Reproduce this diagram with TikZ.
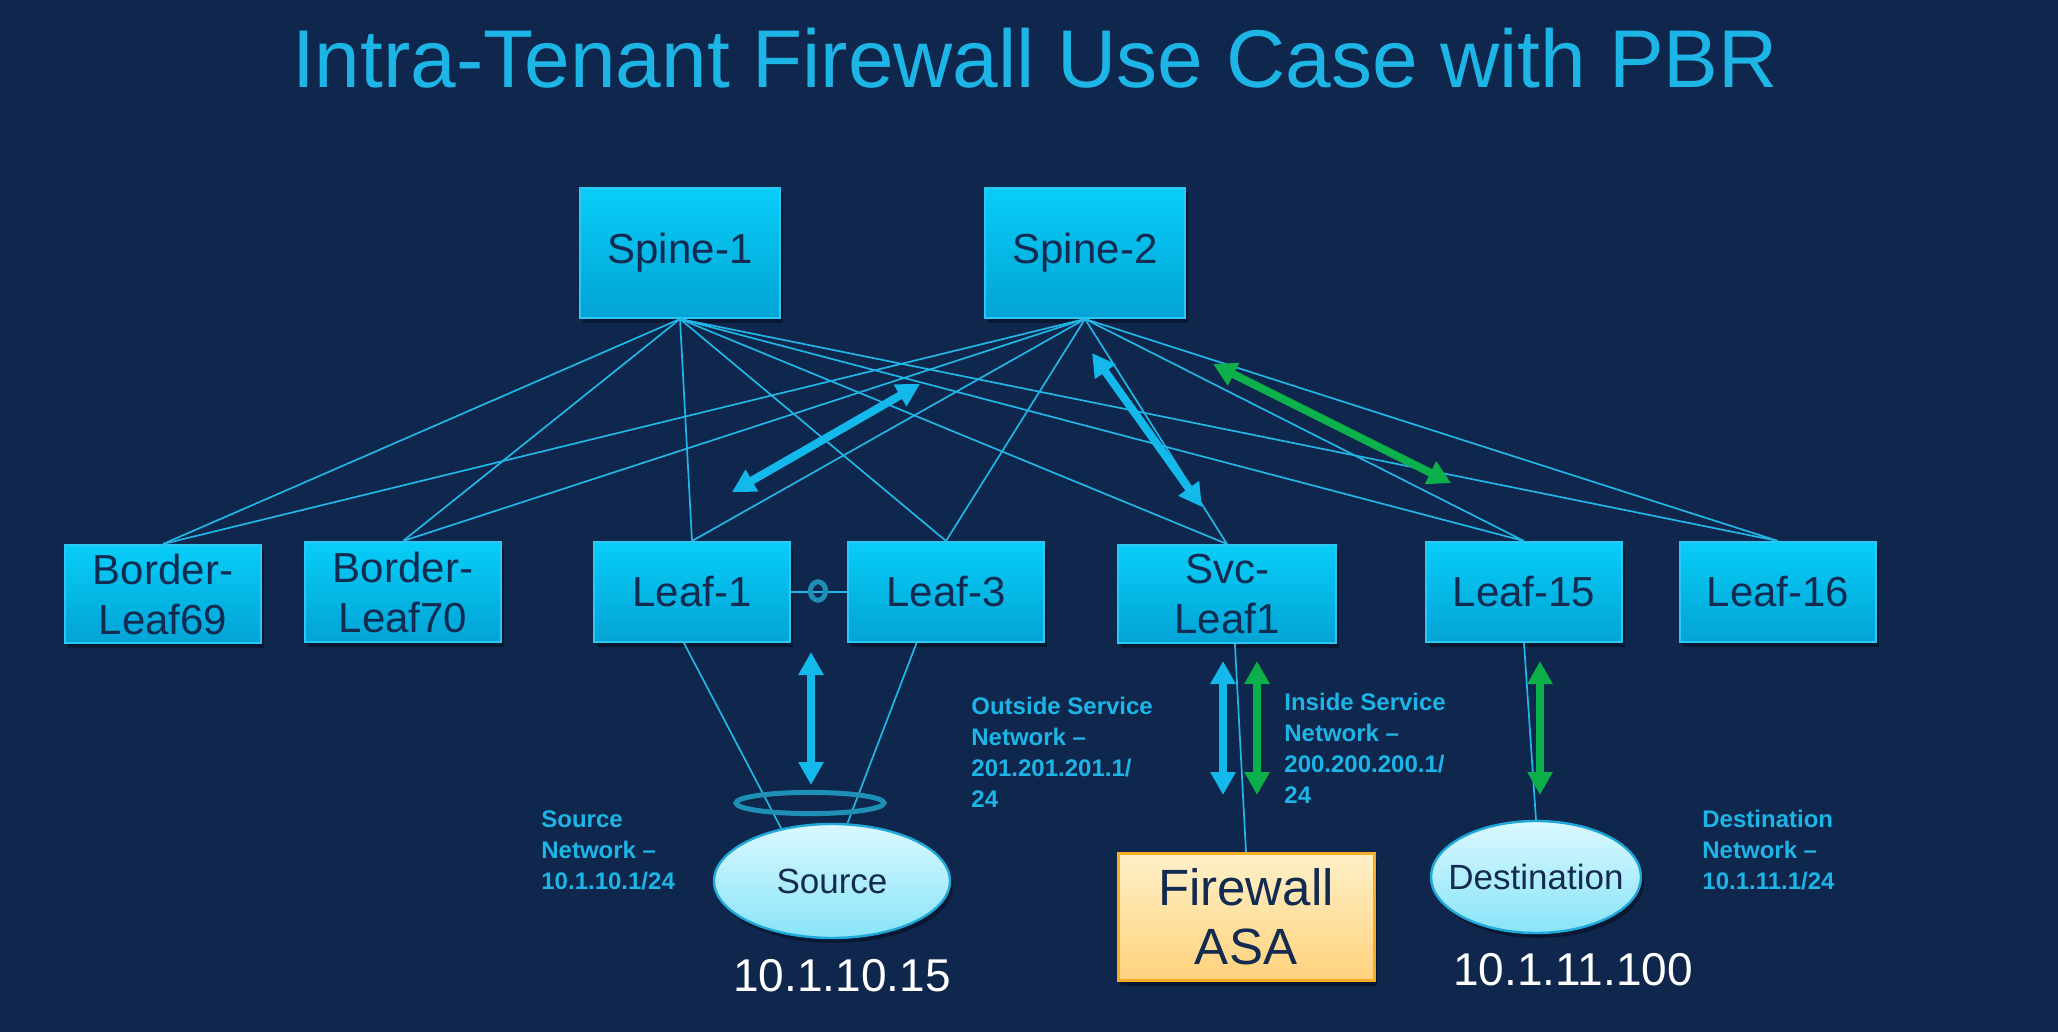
\documentclass[tikz,border=0pt]{standalone}
\usepackage{fontspec}
\setmainfont{Liberation Sans}
\usetikzlibrary{shapes.geometric,arrows.meta,shadows}
\definecolor{bgnavy}{HTML}{0F264D}
\definecolor{titlecyan}{HTML}{1DB4E6}
\definecolor{boxtop}{HTML}{08CDF8}
\definecolor{boxbot}{HTML}{02A3D5}
\definecolor{boxedge}{HTML}{2EC6F2}
\definecolor{inknavy}{HTML}{132B50}
\definecolor{meshcyan}{HTML}{22B6E6}
\definecolor{flowblue}{HTML}{12B9EA}
\definecolor{flowgreen}{HTML}{0DAF4B}
\definecolor{ringteal}{HTML}{1E90B6}
\definecolor{hosttop}{HTML}{DAF8FF}
\definecolor{hostbot}{HTML}{88E4F8}
\definecolor{hostedge}{HTML}{1FA9DA}
\definecolor{fwtop}{HTML}{FFF0C8}
\definecolor{fwbot}{HTML}{FFD27C}
\definecolor{fwedge}{HTML}{F5AC28}
\tikzset{
  softshadow/.style={drop shadow={shadow xshift=1.5pt, shadow yshift=-2.5pt, opacity=0.35, fill=black}},
  switch/.style={rectangle, draw=boxedge, line width=1pt, top color=boxtop, bottom color=boxbot,
    text=inknavy, align=center, inner sep=0pt, minimum width=98pt, minimum height=50pt,
    font=\fontsize{21}{25}\selectfont, softshadow},
  spine/.style={switch, minimum width=100pt, minimum height=65pt},
  host/.style={ellipse, draw=hostedge, line width=1.2pt, top color=hosttop, bottom color=hostbot,
    text=inknavy, inner sep=0pt, font=\fontsize{17.5}{20}\selectfont, softshadow},
  firewall/.style={rectangle, draw=fwedge, line width=1.5pt, top color=fwtop, bottom color=fwbot,
    text=inknavy, align=center, inner sep=0pt, minimum width=128pt, minimum height=63.5pt,
    font=\fontsize{25.5}{29.5}\selectfont, softshadow},
  netlabel/.style={anchor=north west, inner sep=0pt, align=left, text=titlecyan,
    font=\bfseries\fontsize{12}{15.5}\selectfont},
  iplabel/.style={inner sep=0pt, text=white, font=\fontsize{23}{27}\selectfont},
  mesh/.style={meshcyan, line width=0.85pt},
  ring/.style={ringteal, line width=2.5pt},
  flow/.style={line width=4pt, {Triangle[length=11.5pt,width=12pt]}-{Triangle[length=11.5pt,width=12pt]}}
}
\begin{document}
\begin{tikzpicture}[x=0.5pt, y=-0.5pt]
\fill[bgnavy] (0,0) rectangle (2058,1032);
\useasboundingbox (0,0) rectangle (2058,1032);
\node[anchor=base, inner sep=0pt, text=titlecyan, font=\fontsize{41}{48}\selectfont] (title) at (1035,88)
  {Intra-Tenant Firewall Use Case with PBR};

\node[spine] (sp1) at (680,253) {Spine-1};
\node[spine] (sp2) at (1085,253) {Spine-2};
\node[switch, minimum height=49pt] (bl69) at (163,594) {Border-\\Leaf69};
\node[switch] (bl70) at (403,592) {Border-\\Leaf70};
\node[switch] (lf1) at (692,592) {Leaf-1};
\node[switch] (lf3) at (946,592) {Leaf-3};
\node[switch, minimum width=109pt, minimum height=49pt] (svc) at (1227,594) {Svc-\\Leaf1};
\node[switch] (lf15) at (1524,592) {Leaf-15};
\node[switch] (lf16) at (1778,592) {Leaf-16};

\node[host, minimum width=118pt, minimum height=57pt] (src) at (832,881) {Source};
\node[host, minimum width=105pt, minimum height=56pt] (dst) at (1536,877) {\makebox[0pt]{Destination}};
\node[firewall] (fw) at (1246,917) {Firewall\\ASA};

\foreach \s in {sp1,sp2}
  \foreach \l in {bl69,bl70,lf1,lf3,svc,lf15,lf16}
    \draw[mesh] (\s.south) -- (\l.north);

\draw[meshcyan, line width=1.2pt] (lf1) -- (lf3);
\draw[ring] (818,591) ellipse [x radius=3.8pt, y radius=4.6pt];

\draw[mesh] (lf1.-99) -- (src.134);
\draw[mesh] (lf3.-120) -- (src.75);
\draw[mesh] (svc.-81) -- (fw.north);
\draw[mesh] (lf15.south) -- (dst.north);
\draw[ring] (810,803) ellipse [x radius=37pt, y radius=5.3pt];

\coordinate (b1a) at (732,492);
\coordinate (b1b) at (920,384);
\coordinate (b2a) at (1092,353);
\coordinate (b2b) at (1202,507);
\coordinate (g1a) at (1213,364);
\coordinate (g1b) at (1451,483);
\coordinate (b3a) at (811,652);
\coordinate (b3b) at (811,785);
\coordinate (b4a) at (1223,661);
\coordinate (b4b) at (1223,795);
\coordinate (g2a) at (1257,661);
\coordinate (g2b) at (1257,795);
\coordinate (g3a) at (1540,661);
\coordinate (g3b) at (1540,795);
\draw[flow, flowblue] (b1a) -- (b1b);
\draw[flow, flowblue] (b2a) -- (b2b);
\draw[flow, flowgreen] (g1a) -- (g1b);
\draw[flow, flowblue] (b3a) -- (b3b);
\draw[flow, flowblue] (b4a) -- (b4b);
\draw[flow, flowgreen] (g2a) -- (g2b);
\draw[flow, flowgreen] (g3a) -- (g3b);

\node[netlabel] (srcnet) at (541,810) {Source\\Network –\\10.1.10.1/24};
\node[netlabel] (outnet) at (971,697) {Outside Service\\Network –\\201.201.201.1/\\24};
\node[netlabel] (innet) at (1284,693) {Inside Service\\Network –\\200.200.200.1/\\24};
\node[netlabel] (dstnet) at (1702,810) {Destination\\Network –\\10.1.11.1/24};
\node[iplabel] (srcip) at (842,976) {10.1.10.15};
\node[iplabel] (dstip) at (1573,970) {10.1.11.100};
\end{tikzpicture}
\end{document}
